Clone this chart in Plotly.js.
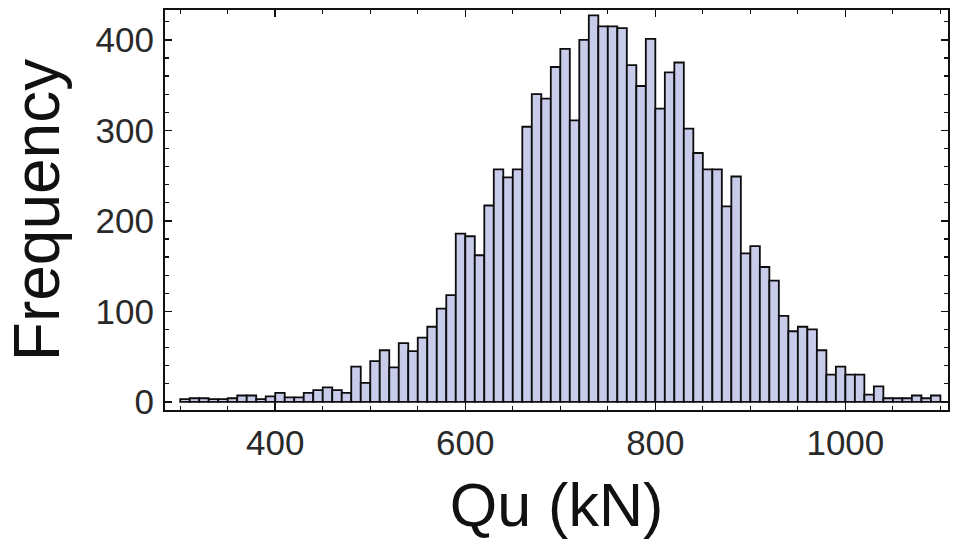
<!DOCTYPE html>
<html>
<head>
<meta charset="utf-8">
<script src="https://cdn.plot.ly/plotly-3.0.1.min.js"></script>
<style>
  html, body { margin: 0; padding: 0; background: #fff; }
  #chart { width: 955px; height: 544px; }
</style>
</head>
<body>
<div id="chart"></div>
<script>
// Histogram of Qu (kN): bins of width 10 starting at 300
const binStart = 300;
const binWidth = 10;
const counts = [
  3, 4, 4, 3, 3, 4, 7, 7, 3, 6,          // 300-390
  10, 5, 5, 10, 13, 16, 13, 10, 39, 21,  // 400-490
  45, 57, 38, 65, 56, 71, 83, 103, 118, 186, // 500-590
  183, 162, 217, 257, 248, 257, 304, 340, 335, 370, // 600-690
  390, 311, 400, 427, 415, 415, 413, 372, 349, 401, // 700-790
  324, 364, 375, 302, 275, 257, 257, 216, 249, 164, // 800-890
  172, 149, 134, 95, 78, 83, 80, 57, 30, 39,        // 900-990
  30, 30, 8, 17, 4, 4, 4, 7, 4, 7                   // 1000-1090
];
const xTickVals = [400, 600, 800, 1000];
const yTickVals = [0, 100, 200, 300, 400];

const binCenters = counts.map((_, i) => binStart + binWidth * i + binWidth / 2);

const trace = {
  type: 'bar',
  x: binCenters,
  y: counts,
  width: binWidth,
  marker: {
    color: 'rgb(200, 203, 234)',
    line: { color: '#0d0d0d', width: 1.8 }
  },
  hoverinfo: 'x+y'
};

const tickFont = { family: 'Liberation Sans, Arial, sans-serif', size: 35, color: '#2a2a2a' };
const xTitleFont = { family: 'Liberation Sans, Arial, sans-serif', size: 61, color: '#111' };
const yTitleFont = { family: 'Liberation Sans, Arial, sans-serif', size: 64, color: '#111' };

const layout = {
  width: 955,
  height: 544,
  margin: { l: 165, r: 7, t: 10, b: 134 },
  paper_bgcolor: '#fff',
  plot_bgcolor: '#fff',
  showlegend: false,
  bargap: 0,
  xaxis: {
    range: [284, 1108],
    tickvals: xTickVals,
    ticktext: xTickVals.map(String),
    ticks: 'inside',
    ticklen: 7,
    tickwidth: 1.5,
    tickcolor: '#111',
    minor: { dtick: 50, tick0: 0, ticks: 'inside', ticklen: 4, tickwidth: 1.2, tickcolor: '#111', showgrid: false },
    showline: true,
    linecolor: '#111',
    linewidth: 2,
    mirror: 'ticks',
    showgrid: false,
    zeroline: false,
    tickfont: tickFont,
    ticklabelstandoff: 1,
    title: { text: 'Qu (kN)', font: xTitleFont, standoff: 22 }
  },
  yaxis: {
    range: [-9, 433],
    tickvals: yTickVals,
    ticktext: yTickVals.map(String),
    ticks: 'inside',
    ticklen: 7,
    tickwidth: 1.5,
    tickcolor: '#111',
    minor: { dtick: 20, tick0: 0, ticks: 'inside', ticklen: 4, tickwidth: 1.2, tickcolor: '#111', showgrid: false },
    showline: true,
    linecolor: '#111',
    linewidth: 2,
    mirror: 'ticks',
    showgrid: false,
    zeroline: false,
    tickfont: tickFont,
    ticklabelstandoff: 2,
    title: { text: 'Frequency', font: yTitleFont, standoff: 15 }
  }
};

Plotly.newPlot('chart', [trace], layout, { displayModeBar: false, staticPlot: true });
</script>
</body>
</html>
